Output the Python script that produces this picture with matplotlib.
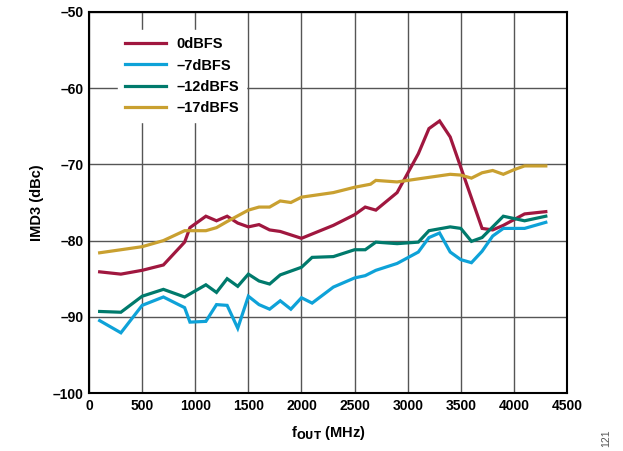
"""IMD3 vs fOUT for four digital backoff levels."""

import matplotlib

matplotlib.use("Agg")
import matplotlib.pyplot as plt
from matplotlib.ticker import FuncFormatter

plt.rcParams["font.family"] = ["Liberation Sans", "DejaVu Sans"]
plt.rcParams["font.weight"] = "bold"

# data (MHz, dBc)
f_0dbfs = [100, 300, 500, 700, 900, 950, 1100, 1200, 1300, 1400, 1500, 1600, 1700, 1800, 2000,
           2300, 2500, 2600, 2700, 2900, 3100, 3200, 3300, 3400, 3500, 3700, 3800, 3900, 4100, 4300]
imd_0dbfs = [-84.1, -84.4, -83.9, -83.2, -80.2, -78.3, -76.8, -77.4, -76.8, -77.7, -78.2, -77.9, -78.6,
             -78.8, -79.7, -78.0, -76.6, -75.6, -76.0, -73.7, -68.6, -65.3, -64.3, -66.4, -70.4,
             -78.4, -78.6, -78.0, -76.5, -76.2]

f_7dbfs = [100, 300, 500, 700, 900, 950, 1100, 1200, 1300, 1400, 1500, 1600, 1700, 1800, 1900, 2000,
           2100, 2300, 2500, 2600, 2700, 2900, 3100, 3200, 3300, 3400, 3500, 3600, 3700, 3800, 3900,
           4100, 4300]
imd_7dbfs = [-90.5, -92.1, -88.5, -87.4, -88.8, -90.7, -90.6, -88.4, -88.5, -91.5, -87.3, -88.4, -89.0,
             -87.9, -89.0, -87.5, -88.2, -86.1, -84.9, -84.6, -83.9, -83.0, -81.5, -79.6, -79.0, -81.5,
             -82.5, -82.9, -81.4, -79.4, -78.4, -78.4, -77.6]

f_12dbfs = [100, 300, 500, 700, 900, 1100, 1200, 1300, 1400, 1500, 1600, 1700, 1800, 2000, 2100, 2300,
            2500, 2600, 2700, 2900, 3100, 3200, 3400, 3500, 3600, 3700, 3900, 4100, 4300]
imd_12dbfs = [-89.3, -89.4, -87.3, -86.4, -87.4, -85.8, -86.8, -85.0, -86.0, -84.4, -85.3, -85.7, -84.5,
              -83.5, -82.2, -82.1, -81.2, -81.2, -80.2, -80.4, -80.2, -78.7, -78.2, -78.4, -80.1,
              -79.6, -76.8, -77.4, -76.8]

f_17dbfs = [100, 300, 500, 700, 900, 1100, 1200, 1300, 1500, 1600, 1700, 1800, 1900, 2000, 2300, 2500,
            2650, 2700, 2900, 3000, 3400, 3500, 3600, 3700, 3800, 3900, 4000, 4100, 4300]
imd_17dbfs = [-81.6, -81.2, -80.8, -80.0, -78.7, -78.7, -78.3, -77.5, -76.0, -75.6, -75.6, -74.8, -75.0,
              -74.3, -73.7, -73.0, -72.6, -72.1, -72.3, -72.1, -71.3, -71.4, -71.8, -71.1, -70.8, -71.3,
              -70.7, -70.2, -70.2]

series = [
    (f_0dbfs, imd_0dbfs, "0dBFS", "#A0173F"),
    (f_7dbfs, imd_7dbfs, "\u20137dBFS", "#0EA2D8"),
    (f_12dbfs, imd_12dbfs, "\u201312dBFS", "#007A6C"),
    (f_17dbfs, imd_17dbfs, "\u201317dBFS", "#C9A030"),
]


def dash_minus(v, _pos):
    v = int(round(v))
    return f"\u2013{abs(v)}" if v < 0 else f"{v}"


fig = plt.figure(figsize=(6.23, 4.51), dpi=100)
ax = fig.add_axes([0.1429, 0.1286, 0.7673, 0.8448])

for xs, ys, label, color in series:
    ax.plot(xs, ys, color=color, linewidth=2.3, label=label, solid_joinstyle="miter")

ax.set_xlim(0, 4500)
ax.set_ylim(-100, -50)
ax.set_xticks(range(0, 4501, 500))
ax.set_yticks(range(-100, -49, 10))
ax.yaxis.set_major_formatter(FuncFormatter(dash_minus))
ax.grid(True, color="#555555", linewidth=1.0)
ax.set_axisbelow(True)
ax.tick_params(length=0, labelsize=10, pad=4)
for lab in ax.get_xticklabels() + ax.get_yticklabels():
    lab.set_fontweight("bold")
for sp in ax.spines.values():
    sp.set_linewidth(1.5)
    sp.set_color("black")

ax.set_xlabel("f$_{\\mathbf{OUT}}$ (MHz)", fontsize=10.5, fontweight="bold", labelpad=8)
ax.set_ylabel("IMD3 (dBc)", fontsize=10.5, fontweight="bold", labelpad=6)

leg = ax.legend(loc="upper left", bbox_to_anchor=(0.045, 0.972), frameon=True, fancybox=False,
                edgecolor="white", framealpha=1.0, fontsize=10.5, handlelength=2.8,
                handletextpad=0.7, labelspacing=0.5, borderpad=0.5)
for t in leg.get_texts():
    t.set_fontweight("bold")

fig.text(0.973, 0.029, "121", rotation=90, fontsize=7.5, color="#555555",
         fontweight="normal", ha="center", va="center")

fig.savefig("out.png", dpi=100)
